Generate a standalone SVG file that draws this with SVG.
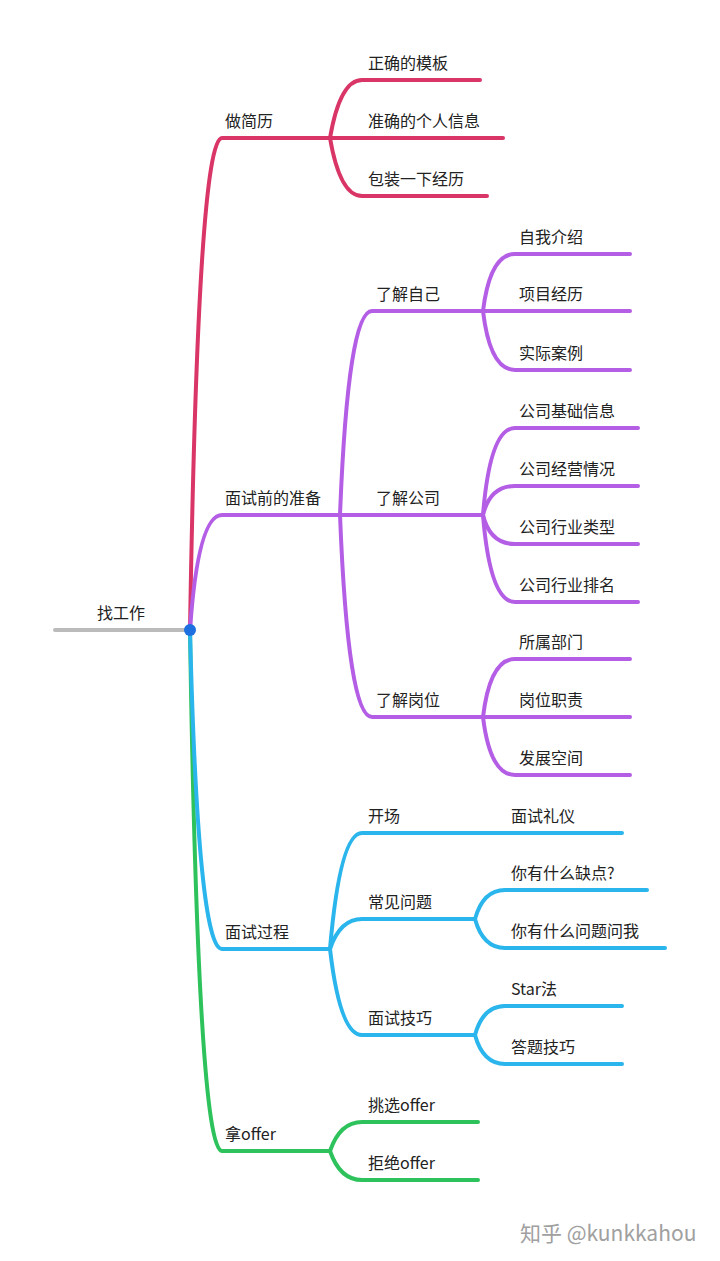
<svg xmlns="http://www.w3.org/2000/svg" width="720" height="1261" viewBox="0 0 720 1261">
<style>
text{font-family:"Noto Sans CJK SC","Noto Sans",sans-serif;font-size:16px;fill:#222}
path{fill:none;stroke-width:4;stroke-linecap:round}
.p{stroke:#D93567}.v{stroke:#B45EE6}.c{stroke:#2AB5EC}.g{stroke:#2EC25C}
</style>
<rect width="720" height="1261" fill="#fff"/>
<g id="connectors">
<path d="M55,630 H190" stroke="#BBB"/>
<path class="p" d="M190,630 Q198,138 222,138 H330"/>
<path class="v" d="M190,630 Q198,515 222,515 H340"/>
<path class="g" d="M190,630 Q198,1151 222,1151 H330"/>
<path class="c" d="M190,630 Q198,949 222,949 H330"/>
<path class="p" d="M330,138 Q340,80 362,80 H480"/>
<path class="p" d="M330,138 H503"/>
<path class="p" d="M330,138 Q340,196 362,196 H487"/>
<path class="v" d="M340,515 Q348,311 372,311 H483"/>
<path class="v" d="M340,515 H483"/>
<path class="v" d="M340,515 Q348,717 372,717 H483"/>
<path class="v" d="M483,311 Q490,254 515,254 H630"/>
<path class="v" d="M483,311 H630"/>
<path class="v" d="M483,311 Q490,370 515,370 H630"/>
<path class="v" d="M483,515 Q490,428 515,428 H638"/>
<path class="v" d="M483,515 Q490,486 515,486 H638"/>
<path class="v" d="M483,515 Q490,544 515,544 H638"/>
<path class="v" d="M483,515 Q490,602 515,602 H638"/>
<path class="v" d="M483,717 Q490,659 515,659 H630"/>
<path class="v" d="M483,717 H630"/>
<path class="v" d="M483,717 Q490,775 515,775 H630"/>
<path class="c" d="M330,949 Q340,833 362,833 H622"/>
<path class="c" d="M330,949 Q340,919 362,919 H475"/>
<path class="c" d="M330,949 Q340,1035 362,1035 H475"/>
<path class="c" d="M475,919 Q483,890 505,890 H647"/>
<path class="c" d="M475,919 Q483,948 505,948 H665"/>
<path class="c" d="M475,1035 Q483,1006 505,1006 H622"/>
<path class="c" d="M475,1035 Q483,1064 505,1064 H622"/>
<path class="g" d="M330,1151 Q340,1122 362,1122 H478"/>
<path class="g" d="M330,1151 Q340,1180 362,1180 H478"/>
</g>
<circle cx="190" cy="630" r="6" fill="#1E6FE0"/>
<g id="n-root"><text x="97" y="619">找工作</text></g>
<g id="n1"><text x="225" y="127">做简历</text></g>
<g id="n2"><text x="225" y="504">面试前的准备</text></g>
<g id="n3"><text x="225" y="938">面试过程</text></g>
<g id="n4"><text x="225" y="1140">拿offer</text></g>
<g id="n11"><text x="368" y="69">正确的模板</text></g>
<g id="n12"><text x="368" y="127">准确的个人信息</text></g>
<g id="n13"><text x="368" y="185">包装一下经历</text></g>
<g id="n21"><text x="376" y="300">了解自己</text></g>
<g id="n22"><text x="376" y="504">了解公司</text></g>
<g id="n23"><text x="376" y="706">了解岗位</text></g>
<g id="n211"><text x="519" y="243">自我介绍</text></g>
<g id="n212"><text x="519" y="300">项目经历</text></g>
<g id="n213"><text x="519" y="359">实际案例</text></g>
<g id="n221"><text x="519" y="417">公司基础信息</text></g>
<g id="n222"><text x="519" y="475">公司经营情况</text></g>
<g id="n223"><text x="519" y="533">公司行业类型</text></g>
<g id="n224"><text x="519" y="591">公司行业排名</text></g>
<g id="n231"><text x="519" y="648">所属部门</text></g>
<g id="n232"><text x="519" y="706">岗位职责</text></g>
<g id="n233"><text x="519" y="764">发展空间</text></g>
<g id="n31"><text x="368" y="822">开场</text></g>
<g id="n32"><text x="368" y="908">常见问题</text></g>
<g id="n33"><text x="368" y="1024">面试技巧</text></g>
<g id="n311"><text x="511" y="822">面试礼仪</text></g>
<g id="n321"><text x="511" y="879">你有什么缺点?</text></g>
<g id="n322"><text x="511" y="937">你有什么问题问我</text></g>
<g id="n331"><text x="511" y="995">Star法</text></g>
<g id="n332"><text x="511" y="1053">答题技巧</text></g>
<g id="n41"><text x="368" y="1111">挑选offer</text></g>
<g id="n42"><text x="368" y="1169">拒绝offer</text></g>
<text x="520" y="1241" style="font-size:21px;fill:#A0A0A0">知乎 @kunkkahou</text>
</svg>
